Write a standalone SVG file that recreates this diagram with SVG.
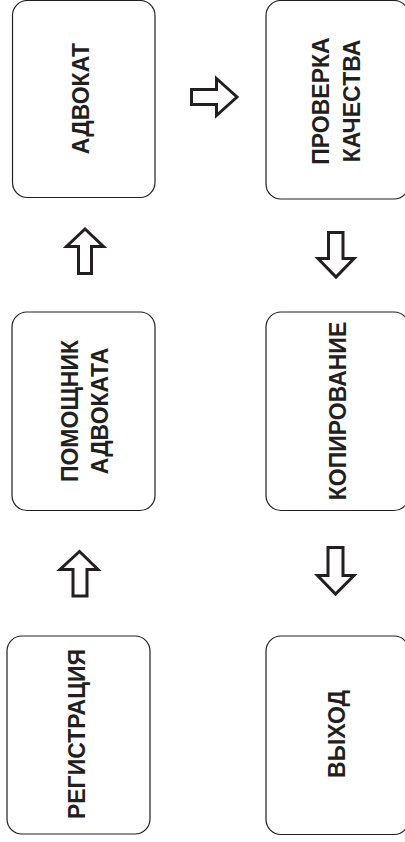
<svg xmlns="http://www.w3.org/2000/svg" width="405" height="842" viewBox="0 0 405 842">
<style>
.box{fill:#fff;stroke:#231f20;stroke-width:1.2}
.lbl{font-family:"Liberation Sans",Arial,sans-serif;font-weight:bold;font-size:23px;fill:#231f20;text-anchor:middle}
.arr{fill:#fff;stroke:#231f20;stroke-width:3;stroke-linejoin:miter;stroke-miterlimit:10}
</style>
<rect width="405" height="842" fill="#fff"/>
<g id="node-advokat">
<rect class="box" x="12.5" y="0.5" width="142.5" height="197" rx="15" ry="15"/>
<text class="lbl" transform="translate(88.5,98.5) rotate(-90)">АДВОКАТ</text>
</g>
<g id="node-proverka">
<rect class="box" x="266" y="0.5" width="143" height="198.5" rx="15" ry="15"/>
<text class="lbl" transform="translate(328.5,101) rotate(-90)">ПРОВЕРКА</text>
<text class="lbl" transform="translate(360,101) rotate(-90)">КАЧЕСТВА</text>
</g>
<g id="node-pomoshnik">
<rect class="box" x="12" y="312" width="143" height="198.5" rx="15" ry="15"/>
<text class="lbl" transform="translate(77.5,411) rotate(-90)">ПОМОЩНИК</text>
<text class="lbl" transform="translate(107.5,411) rotate(-90)">АДВОКАТА</text>
</g>
<g id="node-kopirovanie">
<rect class="box" x="266" y="312" width="143" height="198.5" rx="15" ry="15"/>
<text class="lbl" transform="translate(346,411) rotate(-90)">КОПИРОВАНИЕ</text>
</g>
<g id="node-registratsiya">
<rect class="box" x="7" y="636" width="143" height="198" rx="15" ry="15"/>
<text class="lbl" transform="translate(85,734) rotate(-90)">РЕГИСТРАЦИЯ</text>
</g>
<g id="node-vyhod">
<rect class="box" x="266" y="636" width="143" height="198.5" rx="15" ry="15"/>
<text class="lbl" transform="translate(345,734) rotate(-90)">ВЫХОД</text>
</g>
<g id="connectors">
<path class="arr" d="M73,596 L73,569.5 L60,569.5 L79.5,551.5 L98,569.5 L87,569.5 L87,596 Z"/>
<path class="arr" d="M78.5,273.5 L78.5,246.5 L66.5,246.5 L85,229 L103.5,246.5 L91.5,246.5 L91.5,273.5 Z"/>
<path class="arr" d="M191.5,89.5 L216.5,89.5 L216.5,78.5 L237,97 L216.5,115.5 L216.5,104.5 L191.5,104.5 Z"/>
<path class="arr" d="M328.5,232.5 L343,232.5 L343,258.5 L354,258.5 L336,277 L318,258.5 L328.5,258.5 Z"/>
<path class="arr" d="M328,547.5 L343,547.5 L343,575.5 L354,575.5 L335.5,594 L317.5,575.5 L328,575.5 Z"/>
</g>
</svg>
